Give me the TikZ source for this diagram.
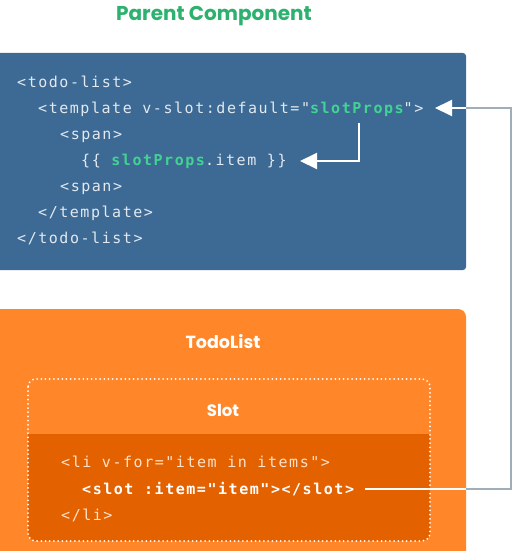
\documentclass[tikz,border=0pt]{standalone}
\usepackage{fontspec}
\setmainfont{Poppins}
\setmonofont{DejaVu Sans Mono}[LetterSpace=10.3]
\usetikzlibrary{arrows.meta}
\definecolor{titlegreen}{RGB}{44,178,110}
\definecolor{codegreen}{RGB}{66,211,146}
\definecolor{boxblue}{RGB}{61,106,148}
\definecolor{codelight}{RGB}{226,233,240}
\definecolor{boxorange}{RGB}{255,135,42}
\definecolor{darkorange}{RGB}{228,97,0}
\definecolor{orangelight}{RGB}{255,226,204}
\definecolor{linkgray}{RGB}{160,174,186}
\tikzset{
  codeline/.style={anchor=base west, inner sep=0pt, font=\ttfamily\fontsize{15}{15}\selectfont, text=codelight},
  slotcode/.style={codeline, text=orangelight},
  heading/.style={inner sep=0pt, text=white, font=\bfseries\fontsize{17.5}{17.5}\selectfont},
  whitearrow/.style={draw=white, line width=2pt, -{Triangle[length=17pt,width=16pt]}},
  whiteline/.style={draw=white, line width=2pt},
  grayline/.style={draw=linkgray, line width=2.5pt},
}
\begin{document}
\begin{tikzpicture}[x=1pt,y=-1pt]
\useasboundingbox[fill=white] (0,0) rectangle (519,551);
% title
\node[inner sep=0pt, text=titlegreen, font=\bfseries\fontsize{20}{20}\selectfont] (title) at (214,16.5) {Parent Component};
% blue box
\fill[boxblue, rounded corners=3pt] (-10,53) rectangle (466,270);
\node[codeline] (l1) at (17,87) {<todo-list>};
\node[codeline] (l2) at (38,113) {<template v-slot:default="\textcolor{codegreen}{\bfseries slotProps}">};
\node[codeline] (l3) at (60,139) {<span>};
\node[codeline] (l4) at (81,165) {\{\{ \textcolor{codegreen}{\bfseries slotProps}.item \}\}};
\node[codeline] (l5) at (60,191) {<span>};
\node[codeline] (l6) at (38,217) {</template>};
\node[codeline] (l7) at (17,243) {</todo-list>};
% orange box
\fill[boxorange, rounded corners=8pt] (-10,309) rectangle (466,570);
\node[heading] (todo) at (223,341.5) {TodoList};
% slot region
\fill[darkorange, rounded corners=8pt] (28,434) rectangle (430,541);
\fill[darkorange] (28,434) rectangle (430,450);
\draw[white, line width=2pt, dash pattern=on 0pt off 4.2pt, line cap=round, rounded corners=8pt] (28,379) rectangle (430,541);
\node[heading, font=\bfseries\fontsize{16.5}{16.5}\selectfont] (slot) at (223,410) {Slot};
\node[slotcode] (s1) at (61,467) {<li v-for="item in items">};
\node[slotcode, text=white, font=\ttfamily\bfseries\fontsize{15}{15}\selectfont] (s2) at (82,494) {<slot :item="item"></slot>};
\node[slotcode] (s3) at (61,520) {</li>};
% connectors
\coordinate (slotout) at (365,489);
\coordinate (orangeedge) at (466,489);
\coordinate (corner1) at (511,489);
\coordinate (corner2) at (511,108);
\coordinate (blueedge) at (466,108);
\coordinate (tpltip) at (435,108);
\draw[grayline] (orangeedge) -- (corner1) -- (corner2) -- (blueedge);
\draw[whiteline] (slotout) -- (orangeedge);
\draw[whitearrow] (blueedge) -- (tpltip);
\coordinate (propsdown) at (359,123);
\coordinate (propsbend) at (359,161);
\coordinate (itemtip) at (300,161);
\draw[whitearrow] (propsdown) -- (propsbend) -- (itemtip);
\end{tikzpicture}
\end{document}
